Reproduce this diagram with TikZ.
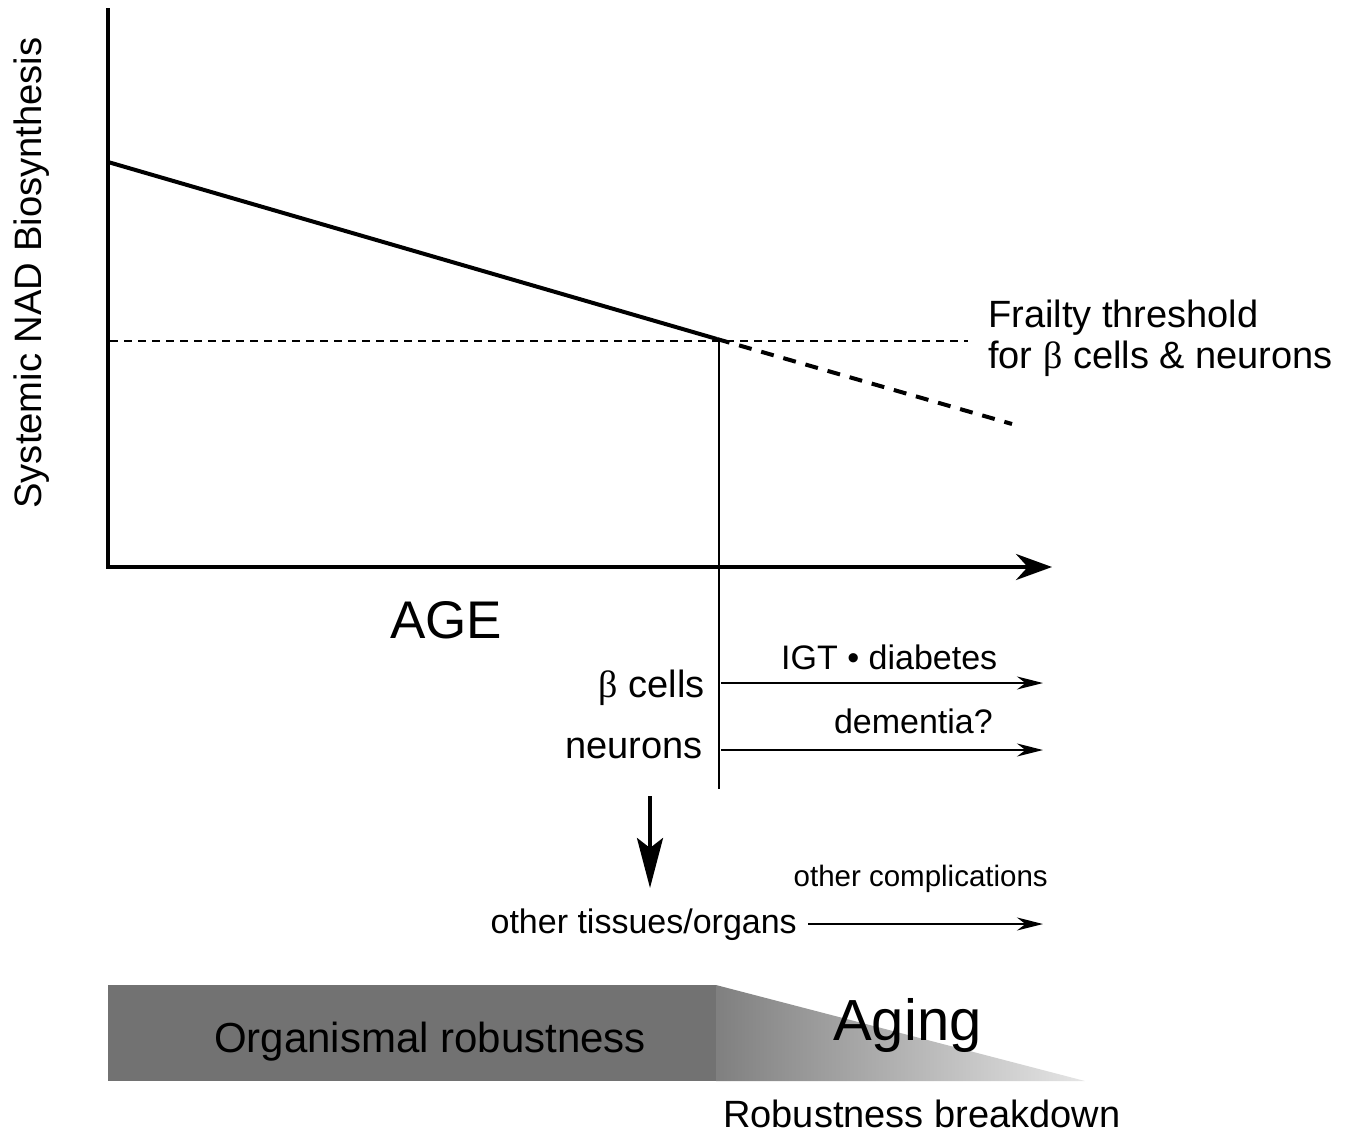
\documentclass[tikz,border=0pt]{standalone}
\usepackage{fontspec}
\setmainfont{Liberation Sans}
\newfontfamily\betafont{Liberation Serif}
\usetikzlibrary{arrows.meta}
\newcommand{\fs}[1]{\fontsize{#1}{#1}\selectfont}
\newcommand{\bt}{{\betafont β}}
\begin{document}
\begin{tikzpicture}[x=1pt,y=-1pt,
  lbl/.style={inner sep=0pt, text=black},
  axisline/.style={line width=4pt},
  thinarrow/.style={line width=2pt, -{Stealth[length=26pt,width=13pt]}},
  bigarrow/.style={line width=4pt, -{Stealth[length=36pt,width=26pt]}},
  downarrow/.style={line width=4pt, -{Stealth[length=50pt,width=26pt,inset=10pt]}},
  thresh/.style={line width=1.5pt, dash pattern=on 8pt off 6pt},
  decline/.style={line width=4pt},
  extrap/.style={line width=4pt, dash pattern=on 13pt off 10pt}]
\useasboundingbox (0,0) rectangle (1352,1133);

% axes
\coordinate (ytop) at (108,10);
\coordinate (O) at (108,567);
\coordinate (xend) at (1052,567);
\draw[axisline, line cap=rect] (ytop) -- (O);
\draw[bigarrow] (O) -- (xend);

% decline line
\coordinate (start) at (108,162);
\coordinate (cross) at (717,339);
\coordinate (dend) at (1012,424);
\draw[decline] (start) -- (cross);
\draw[extrap] (cross) -- (dend);

% threshold
\coordinate (thA) at (110,341);
\coordinate (thB) at (968,341);
\draw[thresh] (thA) -- (thB);

% vertical marker
\coordinate (vtop) at (719,340);
\coordinate (vbot) at (719,789);
\draw[line width=2pt] (vtop) -- (vbot);

% labels
\node[lbl, rotate=90, anchor=base] (ylab) at (41,273) {\fs{38.2}Systemic NAD Biosynthesis};
\node[lbl, anchor=base west] (fr1) at (988,327) {\fs{38}Frailty threshold};
\node[lbl, anchor=base west] (fr2) at (988,368) {\fs{38}for \bt{} cells \& neurons};
\node[lbl, anchor=base west] (age) at (390,638) {\fs{53}AGE};
\node[lbl, anchor=base east] (beta) at (705,697) {\fs{38}\bt{} cells};
\node[lbl, anchor=base east] (neur) at (703,758) {\fs{38}neurons};
\node[lbl, anchor=base west] (igt) at (781,669) {\fs{34}IGT • diabetes};
\node[lbl, anchor=base east] (dem) at (993,733) {\fs{34}dementia?};
\node[lbl, anchor=base east] (compl) at (1048,886) {\fs{29.5}other complications};
\node[lbl, anchor=base east] (tiss) at (797,933) {\fs{34}other tissues/organs};

% arrows
\coordinate (a1s) at (721,683);
\coordinate (a1e) at (1043,683);
\coordinate (a2s) at (721,750);
\coordinate (a2e) at (1043,750);
\coordinate (a3s) at (808,924);
\coordinate (a3e) at (1043,924);
\draw[thinarrow] (a1s) -- (a1e);
\draw[thinarrow] (a2s) -- (a2e);
\draw[thinarrow] (a3s) -- (a3e);
\coordinate (dA) at (650,796);
\coordinate (dB) at (650,888);
\draw[downarrow] (dA) -- (dB);

% bottom bar
\definecolor{bargray}{HTML}{727272}
\fill[bargray] (108,985) rectangle (716,1081);
\shade[left color=black!50, right color=black!10] (716,985) -- (1085,1081) -- (716,1081) -- cycle;
\node[lbl, anchor=base] (rob) at (430,1052) {\fs{42}Organismal robustness};
\node[lbl, anchor=base west] (aging) at (833,1040) {\fs{58}Aging};
\node[lbl, anchor=base west] (brk) at (723,1127) {\fs{38}Robustness breakdown};
\end{tikzpicture}
\end{document}
